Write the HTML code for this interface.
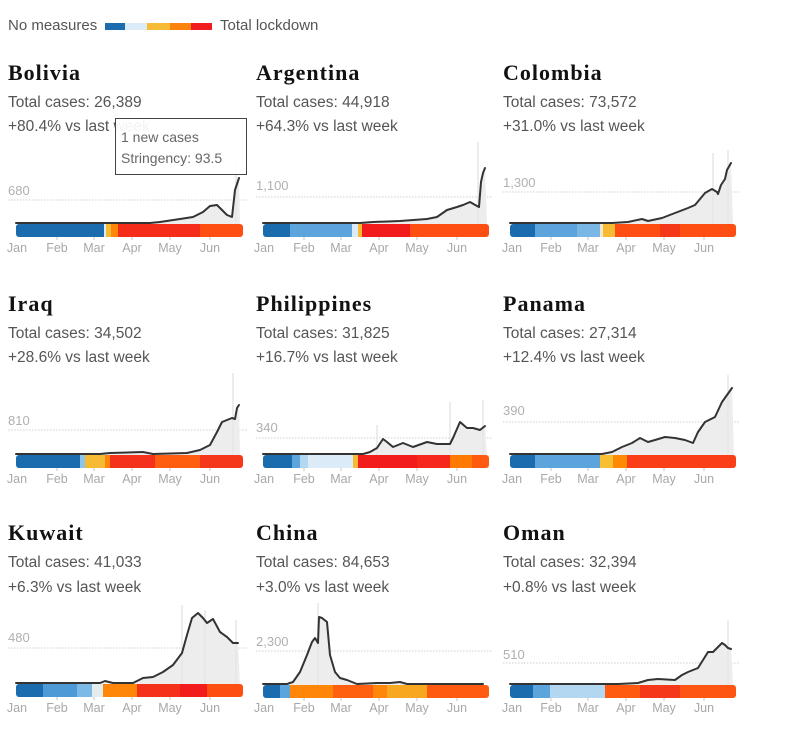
<!DOCTYPE html>
<html>
<head>
<meta charset="utf-8">
<style>
html,body{margin:0;padding:0;background:#fff;}
svg{display:block;}
.t{font-family:"Liberation Serif",serif;font-weight:bold;font-size:22px;fill:#121212;letter-spacing:1px;}
.s{font-family:"Liberation Sans",sans-serif;font-size:15.5px;fill:#555;}
.lg{font-family:"Liberation Sans",sans-serif;font-size:15px;fill:#555;}
.yl{font-family:"Liberation Sans",sans-serif;font-size:13px;fill:#b0b0b0;}
.m{font-family:"Liberation Sans",sans-serif;font-size:12.5px;fill:#a8a8a8;text-anchor:middle;}
.tt{font-family:"Liberation Sans",sans-serif;font-size:14px;fill:#666;}
.ln{fill:none;stroke:#333;stroke-width:2;stroke-linejoin:round;stroke-linecap:round;}
.ar{fill:#ededed;stroke:none;}
.sp{stroke:#e6e6e6;stroke-width:1.5;}
.dl{stroke:#cfcfcf;stroke-width:1;stroke-dasharray:1.5 1.5;}
.tk{stroke:#c4c4c4;stroke-width:1;}
</style>
</head>
<body>
<svg width="800" height="746" viewBox="0 0 800 746" xmlns="http://www.w3.org/2000/svg">
<defs>
<clipPath id="c1"><rect x="16" y="224" width="227" height="13" rx="3"/></clipPath>
<clipPath id="c2"><rect x="263" y="224" width="226" height="13" rx="3"/></clipPath>
<clipPath id="c3"><rect x="510" y="224" width="226" height="13" rx="3"/></clipPath>
<clipPath id="c4"><rect x="16" y="455" width="227" height="13" rx="3"/></clipPath>
<clipPath id="c5"><rect x="263" y="455" width="226" height="13" rx="3"/></clipPath>
<clipPath id="c6"><rect x="510" y="455" width="226" height="13" rx="3"/></clipPath>
<clipPath id="c7"><rect x="16" y="684" width="227" height="13" rx="3"/></clipPath>
<clipPath id="c8"><rect x="263" y="685" width="226" height="13" rx="3"/></clipPath>
<clipPath id="c9"><rect x="510" y="685" width="226" height="13" rx="3"/></clipPath>
</defs>

<!-- Legend -->
<text class="lg" x="8" y="30">No measures</text>
<rect x="105" y="23" width="20" height="7" fill="#1b6cae"/>
<rect x="125" y="23" width="22" height="7" fill="#dcebf8"/>
<rect x="147" y="23" width="23" height="7" fill="#f6ba35"/>
<rect x="170" y="23" width="21" height="7" fill="#fb840f"/>
<rect x="191" y="23" width="21" height="7" fill="#f21c1f"/>
<text class="lg" x="220" y="30">Total lockdown</text>

<!-- ================= ROW 1 ================= -->
<!-- Bolivia -->
<text class="t" x="8" y="80">Bolivia</text>
<text class="s" x="8" y="107">Total cases: 26,389</text>
<text class="s" x="8" y="131">+80.4% vs last week</text>
<text class="yl" x="8" y="195">680</text>
<line class="dl" x1="8" y1="200" x2="248" y2="200"/>
<polygon class="ar" points="16,224 16,223 150,223 160,222 180,219 193,217 203,212 210,206 217,205 222,210 227,215 232,217 233,208 235,190 239,178 240,224"/>
<line class="sp" x1="236" y1="224" x2="236" y2="160"/>
<polyline class="ln" points="16,223 150,223 160,222 180,219 193,217 203,212 210,206 217,205 222,210 227,215 232,217 233,208 235,190 239,178"/>
<g clip-path="url(#c1)">
<rect x="16" y="224" width="88" height="13" fill="#1b6cae"/>
<rect x="104" y="224" width="2" height="13" fill="#dcebf8"/>
<rect x="106" y="224" width="5" height="13" fill="#f6ba35"/>
<rect x="111" y="224" width="7" height="13" fill="#ff8608"/>
<rect x="118" y="224" width="82" height="13" fill="#f52c1a"/>
<rect x="200" y="224" width="43" height="13" fill="#ff4e12"/>
</g>
<g class="tk"><line x1="57" y1="237" x2="57" y2="240"/><line x1="94" y1="237" x2="94" y2="240"/><line x1="132" y1="237" x2="132" y2="240"/><line x1="170" y1="237" x2="170" y2="240"/><line x1="210" y1="237" x2="210" y2="240"/></g>
<text class="m" x="17" y="252">Jan</text><text class="m" x="57" y="252">Feb</text><text class="m" x="94" y="252">Mar</text><text class="m" x="132" y="252">Apr</text><text class="m" x="170" y="252">May</text><text class="m" x="210" y="252">Jun</text>
<!-- tooltip -->
<rect x="115.5" y="118.5" width="131" height="56" fill="#fff" fill-opacity="0.93" stroke="#444" stroke-width="1"/>
<text class="tt" x="121" y="142">1 new cases</text>
<text class="tt" x="121" y="163">Stringency: 93.5</text>

<!-- Argentina -->
<text class="t" x="256" y="80">Argentina</text>
<text class="s" x="256" y="107">Total cases: 44,918</text>
<text class="s" x="256" y="131">+64.3% vs last week</text>
<text class="yl" x="256" y="190">1,100</text>
<line class="dl" x1="256" y1="197" x2="492" y2="197"/>
<polygon class="ar" points="263,224 263,223 360,223 373,222 400,221 427,219 437,217 447,210 457,207 463,205 470,202 477,206 479,207 481,182 483,173 485,168 487,224"/>
<line class="sp" x1="478" y1="224" x2="478" y2="142"/>
<polyline class="ln" points="263,223 360,223 373,222 400,221 427,219 437,217 447,210 457,207 463,205 470,202 477,206 479,207 481,182 483,173 485,168"/>
<g clip-path="url(#c2)">
<rect x="263" y="224" width="27" height="13" fill="#1b6cae"/>
<rect x="290" y="224" width="62" height="13" fill="#5ba5dc"/>
<rect x="352" y="224" width="6" height="13" fill="#dcebf8"/>
<rect x="358" y="224" width="4" height="13" fill="#f6ba35"/>
<rect x="362" y="224" width="48" height="13" fill="#f21c1c"/>
<rect x="410" y="224" width="79" height="13" fill="#ff4e12"/>
</g>
<g class="tk"><line x1="304" y1="237" x2="304" y2="240"/><line x1="341" y1="237" x2="341" y2="240"/><line x1="379" y1="237" x2="379" y2="240"/><line x1="417" y1="237" x2="417" y2="240"/><line x1="457" y1="237" x2="457" y2="240"/></g>
<text class="m" x="264" y="252">Jan</text><text class="m" x="304" y="252">Feb</text><text class="m" x="341" y="252">Mar</text><text class="m" x="379" y="252">Apr</text><text class="m" x="417" y="252">May</text><text class="m" x="457" y="252">Jun</text>

<!-- Colombia -->
<text class="t" x="503" y="80">Colombia</text>
<text class="s" x="503" y="107">Total cases: 73,572</text>
<text class="s" x="503" y="131">+31.0% vs last week</text>
<text class="yl" x="503" y="187">1,300</text>
<line class="dl" x1="503" y1="192" x2="740" y2="192"/>
<polygon class="ar" points="510,224 510,223 612,223 628,222 642,219 648,221 662,218 675,213 688,208 695,205 705,193 712,189 717,192 718,194 721,185 725,179 727,170 731,163 733,224"/>
<line class="sp" x1="713" y1="224" x2="713" y2="153"/>
<line class="sp" x1="728" y1="224" x2="728" y2="150"/>
<polyline class="ln" points="510,223 612,223 628,222 642,219 648,221 662,218 675,213 688,208 695,205 705,193 712,189 717,192 718,194 721,185 725,179 727,170 731,163"/>
<g clip-path="url(#c3)">
<rect x="510" y="224" width="25" height="13" fill="#1b6cae"/>
<rect x="535" y="224" width="42" height="13" fill="#5ba5dc"/>
<rect x="577" y="224" width="23" height="13" fill="#7ab7e5"/>
<rect x="600" y="224" width="3" height="13" fill="#f3e9c8"/>
<rect x="603" y="224" width="12" height="13" fill="#f6ba35"/>
<rect x="615" y="224" width="45" height="13" fill="#ff4e12"/>
<rect x="660" y="224" width="20" height="13" fill="#f5381a"/>
<rect x="680" y="224" width="56" height="13" fill="#ff4e12"/>
</g>
<g class="tk"><line x1="551" y1="237" x2="551" y2="240"/><line x1="588" y1="237" x2="588" y2="240"/><line x1="626" y1="237" x2="626" y2="240"/><line x1="664" y1="237" x2="664" y2="240"/><line x1="704" y1="237" x2="704" y2="240"/></g>
<text class="m" x="512" y="252">Jan</text><text class="m" x="551" y="252">Feb</text><text class="m" x="588" y="252">Mar</text><text class="m" x="626" y="252">Apr</text><text class="m" x="664" y="252">May</text><text class="m" x="704" y="252">Jun</text>

<!-- ================= ROW 2 ================= -->
<!-- Iraq -->
<text class="t" x="8" y="311">Iraq</text>
<text class="s" x="8" y="338">Total cases: 34,502</text>
<text class="s" x="8" y="362">+28.6% vs last week</text>
<text class="yl" x="8" y="425">810</text>
<line class="dl" x1="8" y1="430" x2="248" y2="430"/>
<polygon class="ar" points="16,455 16,454 100,454 110,453 143,452 153,454 187,453 200,450 210,445 217,432 222,422 227,420 232,418 235,419 237,408 239,405 240,455"/>
<line class="sp" x1="233" y1="455" x2="233" y2="373"/>
<polyline class="ln" points="16,454 100,454 110,453 143,452 153,454 187,453 200,450 210,445 217,432 222,422 227,420 232,418 235,419 237,408 239,405"/>
<g clip-path="url(#c4)">
<rect x="16" y="455" width="64" height="13" fill="#1b6cae"/>
<rect x="80" y="455" width="5" height="13" fill="#8cc4ec"/>
<rect x="85" y="455" width="20" height="13" fill="#f6ba35"/>
<rect x="105" y="455" width="5" height="13" fill="#ff8608"/>
<rect x="110" y="455" width="45" height="13" fill="#f5301b"/>
<rect x="155" y="455" width="45" height="13" fill="#ff5e10"/>
<rect x="200" y="455" width="43" height="13" fill="#f5381a"/>
</g>
<g class="tk"><line x1="57" y1="468" x2="57" y2="471"/><line x1="94" y1="468" x2="94" y2="471"/><line x1="132" y1="468" x2="132" y2="471"/><line x1="170" y1="468" x2="170" y2="471"/><line x1="210" y1="468" x2="210" y2="471"/></g>
<text class="m" x="17" y="483">Jan</text><text class="m" x="57" y="483">Feb</text><text class="m" x="94" y="483">Mar</text><text class="m" x="132" y="483">Apr</text><text class="m" x="170" y="483">May</text><text class="m" x="210" y="483">Jun</text>

<!-- Philippines -->
<text class="t" x="256" y="311">Philippines</text>
<text class="s" x="256" y="338">Total cases: 31,825</text>
<text class="s" x="256" y="362">+16.7% vs last week</text>
<text class="yl" x="256" y="432">340</text>
<line class="dl" x1="256" y1="438" x2="492" y2="438"/>
<polygon class="ar" points="263,455 263,454 363,454 370,452 377,448 383,439 387,442 393,447 403,443 413,447 427,442 437,444 450,444 453,438 460,422 467,428 473,428 480,430 485,426 487,455"/>
<line class="sp" x1="377" y1="455" x2="377" y2="425"/>
<line class="sp" x1="450" y1="455" x2="450" y2="402"/>
<line class="sp" x1="483" y1="455" x2="483" y2="400"/>
<polyline class="ln" points="263,454 363,454 370,452 377,448 383,439 387,442 393,447 403,443 413,447 427,442 437,444 450,444 453,438 460,422 467,428 473,428 480,430 485,426"/>
<g clip-path="url(#c5)">
<rect x="263" y="455" width="29" height="13" fill="#1b6cae"/>
<rect x="292" y="455" width="8" height="13" fill="#5ba5dc"/>
<rect x="300" y="455" width="8" height="13" fill="#b3d7f1"/>
<rect x="308" y="455" width="45" height="13" fill="#dcebf8"/>
<rect x="353" y="455" width="5" height="13" fill="#f6ba35"/>
<rect x="358" y="455" width="59" height="13" fill="#f21c1c"/>
<rect x="417" y="455" width="33" height="13" fill="#f5281b"/>
<rect x="450" y="455" width="22" height="13" fill="#ff7a05"/>
<rect x="472" y="455" width="17" height="13" fill="#ff5a10"/>
</g>
<g class="tk"><line x1="304" y1="468" x2="304" y2="471"/><line x1="341" y1="468" x2="341" y2="471"/><line x1="379" y1="468" x2="379" y2="471"/><line x1="417" y1="468" x2="417" y2="471"/><line x1="457" y1="468" x2="457" y2="471"/></g>
<text class="m" x="264" y="483">Jan</text><text class="m" x="304" y="483">Feb</text><text class="m" x="341" y="483">Mar</text><text class="m" x="379" y="483">Apr</text><text class="m" x="417" y="483">May</text><text class="m" x="457" y="483">Jun</text>

<!-- Panama -->
<text class="t" x="503" y="311">Panama</text>
<text class="s" x="503" y="338">Total cases: 27,314</text>
<text class="s" x="503" y="362">+12.4% vs last week</text>
<text class="yl" x="503" y="415">390</text>
<line class="dl" x1="503" y1="422" x2="740" y2="422"/>
<polygon class="ar" points="510,455 510,454 602,454 612,452 622,447 632,443 640,438 648,442 655,440 665,437 675,438 685,440 693,443 698,432 705,422 715,417 722,402 732,388 734,455"/>
<line class="sp" x1="728" y1="455" x2="728" y2="375"/>
<polyline class="ln" points="510,454 602,454 612,452 622,447 632,443 640,438 648,442 655,440 665,437 675,438 685,440 693,443 698,432 705,422 715,417 722,402 732,388"/>
<g clip-path="url(#c6)">
<rect x="510" y="455" width="25" height="13" fill="#1b6cae"/>
<rect x="535" y="455" width="65" height="13" fill="#5ba5dc"/>
<rect x="600" y="455" width="13" height="13" fill="#f8c030"/>
<rect x="613" y="455" width="14" height="13" fill="#ff8a05"/>
<rect x="627" y="455" width="109" height="13" fill="#f93e18"/>
</g>
<g class="tk"><line x1="551" y1="468" x2="551" y2="471"/><line x1="588" y1="468" x2="588" y2="471"/><line x1="626" y1="468" x2="626" y2="471"/><line x1="664" y1="468" x2="664" y2="471"/><line x1="704" y1="468" x2="704" y2="471"/></g>
<text class="m" x="512" y="483">Jan</text><text class="m" x="551" y="483">Feb</text><text class="m" x="588" y="483">Mar</text><text class="m" x="626" y="483">Apr</text><text class="m" x="664" y="483">May</text><text class="m" x="704" y="483">Jun</text>

<!-- ================= ROW 3 ================= -->
<!-- Kuwait -->
<text class="t" x="8" y="540">Kuwait</text>
<text class="s" x="8" y="567">Total cases: 41,033</text>
<text class="s" x="8" y="592">+6.3% vs last week</text>
<text class="yl" x="8" y="642">480</text>
<line class="dl" x1="8" y1="648" x2="248" y2="648"/>
<polygon class="ar" points="16,684 16,683 100,683 105,681 113,683 133,683 143,678 153,677 163,672 173,665 182,653 187,635 192,618 198,613 203,618 207,623 213,619 220,632 227,637 233,643 238,643 240,684"/>
<line class="sp" x1="182" y1="684" x2="182" y2="605"/>
<line class="sp" x1="205" y1="684" x2="205" y2="610"/>
<line class="sp" x1="236" y1="684" x2="236" y2="620"/>
<polyline class="ln" points="16,683 90,683 100,683 105,681 113,683 133,683 143,678 153,677 163,672 173,665 182,653 187,635 192,618 198,613 203,618 207,623 213,619 220,632 227,637 233,643 238,643"/>
<g clip-path="url(#c7)">
<rect x="16" y="684" width="27" height="13" fill="#1b6cae"/>
<rect x="43" y="684" width="34" height="13" fill="#4d9ad6"/>
<rect x="77" y="684" width="15" height="13" fill="#7db9e6"/>
<rect x="92" y="684" width="11" height="13" fill="#e4ecee"/>
<rect x="103" y="684" width="34" height="13" fill="#ff8608"/>
<rect x="137" y="684" width="43" height="13" fill="#f5301b"/>
<rect x="180" y="684" width="27" height="13" fill="#f21c1c"/>
<rect x="207" y="684" width="36" height="13" fill="#ff4e12"/>
</g>
<g class="tk"><line x1="57" y1="697" x2="57" y2="700"/><line x1="94" y1="697" x2="94" y2="700"/><line x1="132" y1="697" x2="132" y2="700"/><line x1="170" y1="697" x2="170" y2="700"/><line x1="210" y1="697" x2="210" y2="700"/></g>
<text class="m" x="17" y="712">Jan</text><text class="m" x="57" y="712">Feb</text><text class="m" x="94" y="712">Mar</text><text class="m" x="132" y="712">Apr</text><text class="m" x="170" y="712">May</text><text class="m" x="210" y="712">Jun</text>

<!-- China -->
<text class="t" x="256" y="540">China</text>
<text class="s" x="256" y="567">Total cases: 84,653</text>
<text class="s" x="256" y="592">+3.0% vs last week</text>
<text class="yl" x="256" y="646">2,300</text>
<line class="dl" x1="256" y1="651" x2="492" y2="651"/>
<polygon class="ar" points="263,685 263,684 287,684 293,682 300,672 307,655 312,642 315,638 318,643 319,617 322,618 327,622 330,655 335,672 340,678 347,680 357,684 377,683 390,683 400,682 407,684 483,684 483,685"/>
<line class="sp" x1="318" y1="685" x2="318" y2="603"/>
<polyline class="ln" points="263,684 287,684 293,682 300,672 307,655 312,642 315,638 318,643 319,617 322,618 327,622 330,655 335,672 340,678 347,680 357,684 377,683 390,683 400,682 407,684 483,684"/>
<g clip-path="url(#c8)">
<rect x="263" y="685" width="17" height="13" fill="#1b6cae"/>
<rect x="280" y="685" width="10" height="13" fill="#5ba5dc"/>
<rect x="290" y="685" width="43" height="13" fill="#ff8608"/>
<rect x="333" y="685" width="40" height="13" fill="#ff6010"/>
<rect x="373" y="685" width="14" height="13" fill="#ff8608"/>
<rect x="387" y="685" width="40" height="13" fill="#f8a820"/>
<rect x="427" y="685" width="62" height="13" fill="#ff5a10"/>
</g>
<g class="tk"><line x1="304" y1="698" x2="304" y2="701"/><line x1="341" y1="698" x2="341" y2="701"/><line x1="379" y1="698" x2="379" y2="701"/><line x1="417" y1="698" x2="417" y2="701"/><line x1="457" y1="698" x2="457" y2="701"/></g>
<text class="m" x="264" y="712">Jan</text><text class="m" x="304" y="712">Feb</text><text class="m" x="341" y="712">Mar</text><text class="m" x="379" y="712">Apr</text><text class="m" x="417" y="712">May</text><text class="m" x="457" y="712">Jun</text>

<!-- Oman -->
<text class="t" x="503" y="540">Oman</text>
<text class="s" x="503" y="567">Total cases: 32,394</text>
<text class="s" x="503" y="592">+0.8% vs last week</text>
<text class="yl" x="503" y="659">510</text>
<line class="dl" x1="503" y1="663" x2="740" y2="663"/>
<polygon class="ar" points="510,685 510,684 618,684 638,683 648,680 658,679 675,680 682,675 688,672 698,668 703,660 708,652 713,652 717,648 722,643 725,645 728,648 731,649 733,685"/>
<line class="sp" x1="728" y1="685" x2="728" y2="620"/>
<polyline class="ln" points="510,684 618,684 638,683 648,680 658,679 675,680 682,675 688,672 698,668 703,660 708,652 713,652 717,648 722,643 725,645 728,648 731,649"/>
<g clip-path="url(#c9)">
<rect x="510" y="685" width="23" height="13" fill="#1b6cae"/>
<rect x="533" y="685" width="17" height="13" fill="#5ba5dc"/>
<rect x="550" y="685" width="55" height="13" fill="#b3d7f1"/>
<rect x="605" y="685" width="35" height="13" fill="#ff5a10"/>
<rect x="640" y="685" width="40" height="13" fill="#f5381a"/>
<rect x="680" y="685" width="56" height="13" fill="#ff5512"/>
</g>
<g class="tk"><line x1="551" y1="698" x2="551" y2="701"/><line x1="588" y1="698" x2="588" y2="701"/><line x1="626" y1="698" x2="626" y2="701"/><line x1="664" y1="698" x2="664" y2="701"/><line x1="704" y1="698" x2="704" y2="701"/></g>
<text class="m" x="512" y="712">Jan</text><text class="m" x="551" y="712">Feb</text><text class="m" x="588" y="712">Mar</text><text class="m" x="626" y="712">Apr</text><text class="m" x="664" y="712">May</text><text class="m" x="704" y="712">Jun</text>
</svg>
</body>
</html>
